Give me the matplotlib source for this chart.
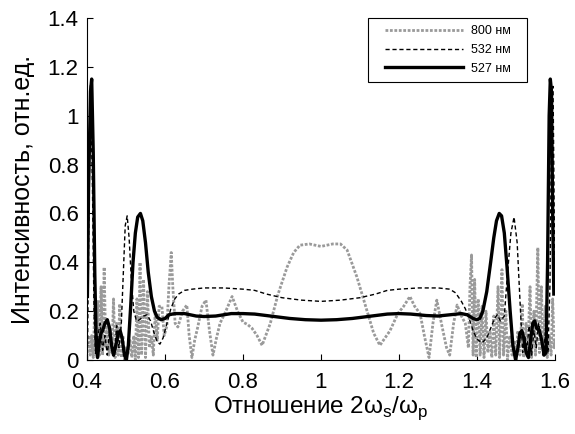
import matplotlib
matplotlib.use("Agg")
import matplotlib.pyplot as plt
from matplotlib.patches import Rectangle

plt.rcParams['font.family'] = ['Liberation Sans', 'DejaVu Sans']

# 800 nm (dotted grey)
x800 = [0.400, 0.405, 0.408, 0.412, 0.416, 0.420, 0.424, 0.428, 0.432, 0.436,
        0.440, 0.444, 0.448, 0.452, 0.456, 0.460, 0.464, 0.468, 0.472, 0.476,
        0.480, 0.484, 0.488, 0.492, 0.496, 0.500, 0.505, 0.510, 0.515, 0.520,
        0.524, 0.528, 0.532, 0.536, 0.540, 0.545, 0.550, 0.555, 0.560, 0.565,
        0.570, 0.575, 0.580, 0.585, 0.592, 0.598, 0.605, 0.610, 0.616, 0.620,
        0.626, 0.633, 0.645, 0.656, 0.662, 0.669, 0.676, 0.684, 0.695, 0.705,
        0.714, 0.723, 0.732, 0.741, 0.756, 0.772, 0.786, 0.800, 0.812, 0.823,
        0.836, 0.849, 0.870, 0.890, 0.913, 0.930, 0.946, 0.970, 1.000, 1.030,
        1.050, 1.067, 1.092, 1.118, 1.135, 1.151, 1.177, 1.197, 1.212, 1.228,
        1.240, 1.254, 1.265, 1.277, 1.287, 1.297, 1.310, 1.322, 1.330, 1.340,
        1.349, 1.360, 1.370, 1.378, 1.382, 1.386, 1.390, 1.394, 1.398, 1.403,
        1.408, 1.413, 1.418, 1.423, 1.428, 1.433, 1.438, 1.443, 1.448, 1.454,
        1.458, 1.464, 1.468, 1.474, 1.478, 1.484, 1.490, 1.496, 1.500, 1.505,
        1.510, 1.516, 1.520, 1.526, 1.530, 1.536, 1.540, 1.546, 1.550, 1.556,
        1.560, 1.565, 1.570, 1.575, 1.580, 1.585, 1.590, 1.594, 1.598, 1.600]
y800 = [0.05, 0.10, 0.02, 0.10, 0.01, 0.22, 0.03, 0.24, 0.02, 0.30,
        0.02, 0.38, 0.05, 0.15, 0.02, 0.12, 0.03, 0.25, 0.01, 0.15,
        0.02, 0.23, 0.01, 0.10, 0.00, 0.05, 0.02, 0.08, 0.01, 0.10,
        0.00, 0.25, 0.01, 0.40, 0.02, 0.33, 0.01, 0.28, 0.05, 0.10,
        0.02, 0.20, 0.08, 0.22, 0.22, 0.10, 0.14, 0.30, 0.44, 0.30,
        0.15, 0.135, 0.20, 0.225, 0.10, 0.01, 0.08, 0.135, 0.22, 0.245,
        0.12, 0.02, 0.09, 0.15, 0.20, 0.26, 0.20, 0.155, 0.145, 0.13,
        0.10, 0.06, 0.15, 0.27, 0.38, 0.44, 0.47, 0.475, 0.465, 0.475,
        0.475, 0.45, 0.34, 0.20, 0.11, 0.06, 0.12, 0.19, 0.22, 0.26,
        0.22, 0.19, 0.10, 0.01, 0.15, 0.245, 0.14, 0.05, 0.02, 0.15,
        0.225, 0.18, 0.15, 0.05, 0.30, 0.43, 0.02, 0.33, 0.01, 0.25,
        0.02, 0.22, 0.01, 0.20, 0.03, 0.12, 0.01, 0.18, 0.02, 0.30,
        0.01, 0.37, 0.02, 0.20, 0.00, 0.10, 0.02, 0.08, 0.00, 0.12,
        0.02, 0.23, 0.01, 0.15, 0.02, 0.30, 0.01, 0.20, 0.02, 0.46,
        0.03, 0.30, 0.02, 0.22, 0.01, 0.10, 0.02, 0.25, 0.05, 0.08]

# 532 nm (dashed black)
x532 = [0.401, 0.405, 0.409, 0.414, 0.418, 0.422, 0.428, 0.434, 0.440, 0.446,
        0.452, 0.458, 0.464, 0.470, 0.476, 0.482, 0.488, 0.493, 0.498, 0.503,
        0.508, 0.514, 0.520, 0.527, 0.535, 0.545, 0.554, 0.563, 0.572, 0.580,
        0.587, 0.595, 0.605, 0.615, 0.625, 0.635, 0.650, 0.670, 0.700, 0.750,
        0.800, 0.830, 0.860, 0.900, 0.950, 1.000, 1.050, 1.100, 1.140, 1.170,
        1.200, 1.250, 1.300, 1.330, 1.345, 1.360, 1.370, 1.380, 1.390, 1.400,
        1.413, 1.425, 1.435, 1.445, 1.452, 1.460, 1.470, 1.478, 1.487, 1.495,
        1.503, 1.510, 1.517, 1.522, 1.528, 1.534, 1.540, 1.546, 1.552, 1.558,
        1.564, 1.570, 1.576, 1.582, 1.587, 1.592, 1.595, 1.598, 1.600]
y532 = [0.00, 0.60, 1.13, 0.70, 0.20, 0.02, 0.10, 0.15, 0.04, 0.10,
        0.02, 0.12, 0.05, 0.01, 0.14, 0.05, 0.15, 0.35, 0.55, 0.59,
        0.50, 0.32, 0.20, 0.16, 0.165, 0.18, 0.185, 0.16, 0.11, 0.075,
        0.065, 0.09, 0.15, 0.21, 0.25, 0.27, 0.285, 0.29, 0.295, 0.295,
        0.29, 0.285, 0.27, 0.255, 0.245, 0.24, 0.245, 0.255, 0.27, 0.285,
        0.29, 0.295, 0.295, 0.29, 0.275, 0.24, 0.21, 0.17, 0.12, 0.085,
        0.07, 0.09, 0.13, 0.17, 0.185, 0.16, 0.18, 0.35, 0.52, 0.585,
        0.48, 0.25, 0.03, 0.10, 0.05, 0.14, 0.02, 0.12, 0.05, 0.15,
        0.10, 0.02, 0.12, 0.03, 0.30, 1.10, 1.12, 0.60, 0.30]

# 527 nm (solid thick black)
x527 = [0.401, 0.404, 0.409, 0.412, 0.416, 0.420, 0.424, 0.427, 0.432, 0.436,
        0.440, 0.446, 0.452, 0.458, 0.463, 0.468, 0.474, 0.480, 0.485, 0.490,
        0.496, 0.501, 0.506, 0.512, 0.518, 0.524, 0.530, 0.537, 0.543, 0.550,
        0.557, 0.565, 0.573, 0.580, 0.590, 0.600, 0.610, 0.625, 0.650, 0.680,
        0.700, 0.730, 0.770, 0.800, 0.830, 0.870, 0.920, 0.960, 1.000, 1.040,
        1.080, 1.130, 1.170, 1.200, 1.230, 1.270, 1.300, 1.330, 1.360, 1.375,
        1.390, 1.400, 1.407, 1.415, 1.425, 1.435, 1.443, 1.450, 1.457, 1.463,
        1.470, 1.477, 1.485, 1.492, 1.499, 1.505, 1.510, 1.515, 1.520, 1.526,
        1.532, 1.538, 1.543, 1.548, 1.553, 1.560, 1.566, 1.572, 1.577, 1.581,
        1.585, 1.588, 1.591, 1.594, 1.597]
y527 = [0.26, 0.70, 1.10, 1.15, 0.85, 0.35, 0.05, 0.01, 0.08, 0.11,
        0.12, 0.15, 0.165, 0.13, 0.06, 0.02, 0.06, 0.11, 0.12, 0.09,
        0.02, 0.00, 0.06, 0.22, 0.40, 0.52, 0.585, 0.60, 0.57, 0.48,
        0.36, 0.26, 0.20, 0.175, 0.165, 0.17, 0.185, 0.19, 0.19, 0.18,
        0.178, 0.18, 0.19, 0.19, 0.188, 0.18, 0.17, 0.165, 0.163, 0.165,
        0.17, 0.18, 0.188, 0.19, 0.188, 0.182, 0.18, 0.185, 0.19, 0.185,
        0.17, 0.165, 0.17, 0.20, 0.28, 0.40, 0.50, 0.57, 0.60, 0.59,
        0.52, 0.38, 0.20, 0.06, 0.00, 0.05, 0.11, 0.12, 0.09, 0.03,
        0.01, 0.09, 0.15, 0.16, 0.13, 0.12, 0.08, 0.02, 0.03, 0.40,
        1.00, 1.15, 1.10, 0.60, 0.27]

labels = ['800 нм', '532 нм', '527 нм']
xticks = [0.4, 0.6, 0.8, 1.0, 1.2, 1.4, 1.6]
xticklabels = ['0.4', '0.6', '0.8', '1', '1.2', '1.4', '1.6']
yticks = [0, 0.2, 0.4, 0.6, 0.8, 1.0, 1.2, 1.4]
yticklabels = ['0', '0.2', '0.4', '0.6', '0.8', '1', '1.2', '1.4']

W, H = 575, 434
fig = plt.figure(figsize=(W / 100, H / 100), dpi=100)
ax = fig.add_axes([87 / W, 1 - 360 / H, (555 - 87) / W, (360 - 18) / H])

ax.plot(x800, y800, linestyle=(0, (1, 0.6)), color='#9a9a9a', lw=2.0, label=labels[0])
ax.plot(x532, y532, linestyle=(0, (3, 2)), color='black', lw=1.0, label=labels[1])
ax.plot(x527, y527, linestyle='-', color='black', lw=2.4, label=labels[2])

ax.set_xlim(0.4, 1.6)
ax.set_ylim(0, 1.4)
ax.set_xticks(xticks)
ax.set_xticklabels(xticklabels)
ax.set_yticks(yticks)
ax.set_yticklabels(yticklabels)
ax.tick_params(direction='in', length=4, width=0.8, labelsize=16)
ax.tick_params(axis='y', pad=6)
ax.tick_params(axis='x', pad=9)
ax.spines['top'].set_visible(False)
ax.spines['right'].set_visible(False)
for s in ['left', 'bottom']:
    ax.spines[s].set_linewidth(0.8)

ax.set_xlabel('Отношение 2ω$_\\mathregular{s}$/ω$_\\mathregular{p}$', fontsize=17.5)
ax.xaxis.set_label_coords(0.5, -0.1)
ax.set_ylabel('Интенсивность, отн.ед.', fontsize=18)
ax.yaxis.set_label_coords(-0.112, 0.5)

# legend: entries without frame, plus a plain rectangular box
leg = ax.legend(loc='upper left', bbox_to_anchor=(385 / W, 1 - 25 / H),
                bbox_transform=fig.transFigure, fontsize=9, frameon=False,
                handlelength=6.2, borderpad=0, labelspacing=0.55,
                handletextpad=0.65, borderaxespad=0)
fig.patches.append(Rectangle((368 / W, 1 - 82 / H), (527 - 368) / W, (82 - 18) / H,
                             transform=fig.transFigure, fill=False,
                             edgecolor='black', lw=0.8))

fig.savefig('out.png', dpi=100)
